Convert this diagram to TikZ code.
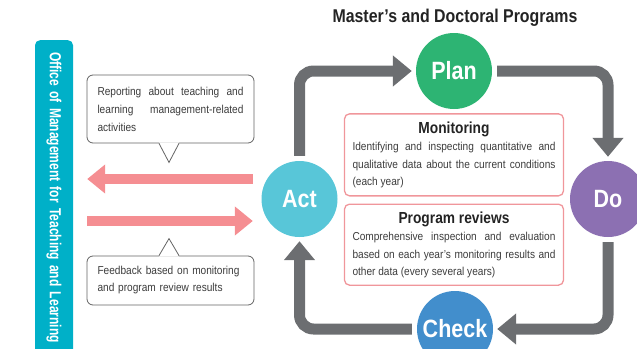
\documentclass[tikz,border=0pt]{standalone}
\usepackage{fontspec}
\setmainfont{Liberation Sans}
\newfontfamily\bodyfont{Liberation Sans}[FakeStretch=0.88]
\newfontfamily\headfont{Liberation Sans}[FakeStretch=0.75, WordSpace=0.6]
\newfontfamily\phasefont{Liberation Sans}[FakeStretch=0.86]
\usetikzlibrary{calc, arrows.meta, positioning}

\begin{document}
\begin{tikzpicture}[
    x=1pt, y=-1pt,
    >=latex,
]

\definecolor{office_color}{RGB}{0,176,200}
\definecolor{act_color}{RGB}{88,198,216}
\definecolor{plan_color}{RGB}{45,180,115}
\definecolor{do_color}{RGB}{140,112,178}
\definecolor{check_color}{RGB}{66,142,204}
\definecolor{loop_gray}{RGB}{108,110,113}
\definecolor{flow_red}{RGB}{245,142,146}
\definecolor{box_border}{RGB}{240,150,155}
\definecolor{note_border}{RGB}{100,100,100}
\definecolor{body_text}{RGB}{60,60,60}
\definecolor{title_text}{RGB}{35,35,35}

\tikzstyle{phase} = [circle, minimum size=76pt, inner sep=0pt, text=white, font=\phasefont\bfseries\fontsize{25}{28}\selectfont]
\tikzstyle{infobox} = [rectangle, rounded corners=5pt, draw=box_border, line width=1.3pt, text width=203pt, inner xsep=8pt, inner ysep=4pt, minimum height=82pt, align=justify, text=body_text, font=\bodyfont\fontsize{11.5}{17.5}\selectfont]
\tikzstyle{note} = [rectangle, rounded corners=6pt, draw=note_border, line width=0.8pt, text width=146pt, inner xsep=10.5pt, fill=white, text=body_text]
\tikzstyle{pointer} = [draw=note_border, line width=0.8pt]
\tikzstyle{officebar} = [rectangle, rounded corners=5pt, fill=office_color, rotate=-90, anchor=west, minimum width=340pt, minimum height=38pt, text width=316pt, inner xsep=12pt, align=left, text=white, font=\headfont\bfseries\fontsize{16}{18}\selectfont]
\tikzstyle{loopline} = [draw=loop_gray, line width=11pt, rounded corners=14pt, -{Triangle[width=30pt,length=19pt]}, shorten <=5pt, shorten >=4pt]
\tikzstyle{flow} = [draw=flow_red, line width=10pt, -{Triangle[width=28pt,length=18pt]}]

\useasboundingbox (0,0) rectangle (637,348);
\clip (0,0) rectangle (637,348);

\node (office) [officebar] at (54,40) {Office of Management for Teaching and Learning};

\node (act) [phase, fill=act_color] at (299.5,199) {Act};
\node (plan) [phase, fill=plan_color] at (454,71) {Plan};
\node (do) [phase, fill=do_color] at (608,199) {Do};
\node (check) [phase, fill=check_color] at (455,329) {Check};

\node (title) [text=title_text, font=\phasefont\bfseries\fontsize{18.5}{20}\selectfont] at (455,18) {Master’s and Doctoral Programs};

\node (monitoring) [infobox, below=4pt of plan] {{\centering\color{title_text}\phasefont\bfseries\fontsize{16}{18}\selectfont Monitoring\par}Identifying and inspecting quantitative and\linebreak qualitative data about the current conditions\linebreak (each year)};
\node (review) [infobox, below=7pt of monitoring, minimum height=81pt] {{\centering\color{title_text}\phasefont\bfseries\fontsize{16}{18}\selectfont Program reviews\par}Comprehensive inspection and evaluation\linebreak based on each year’s monitoring results and\linebreak other data (every several years)};

\node (report) [note, minimum height=68pt, align=justify, font=\bodyfont\fontsize{11.5}{18}\selectfont] at (170.5,109) {Reporting about teaching and\linebreak learning management-related\linebreak activities};
\node (feedback) [note, minimum height=49pt, align=left, font=\bodyfont\fontsize{11.5}{17}\selectfont] at (170.5,280.5) {Feedback based on monitoring\\and program review results};

\fill[white] ($(report.south)+(-11.5,-1)$) -- ($(report.south)+(-1.5,19)$) -- ($(report.south)+(8.5,-1)$) -- cycle;
\draw[pointer] ($(report.south)+(-11.5,0)$) -- ($(report.south)+(-1.5,19)$) -- ($(report.south)+(8.5,0)$);
\fill[white] ($(feedback.north)+(-11.5,1)$) -- ($(feedback.north)+(-1.5,-17)$) -- ($(feedback.north)+(8.5,1)$) -- cycle;
\draw[pointer] ($(feedback.north)+(-11.5,0)$) -- ($(feedback.north)+(-1.5,-17)$) -- ($(feedback.north)+(8.5,0)$);

\draw[flow] ($(act.west)+(-8.5,-20)$) -- ($(act.west -| office.north)+(14,-20)$);
\draw[flow] ($(act.west -| office.north)+(14,22)$) -- ($(act.west)+(-8.5,22)$);

\draw[loopline] (act.north) |- (plan.west);
\draw[loopline] (plan.east) -| (do.north);
\draw[loopline] (do.south) |- (check.east);
\draw[loopline] (check.west) -| (act.south);

\end{tikzpicture}
\end{document}
